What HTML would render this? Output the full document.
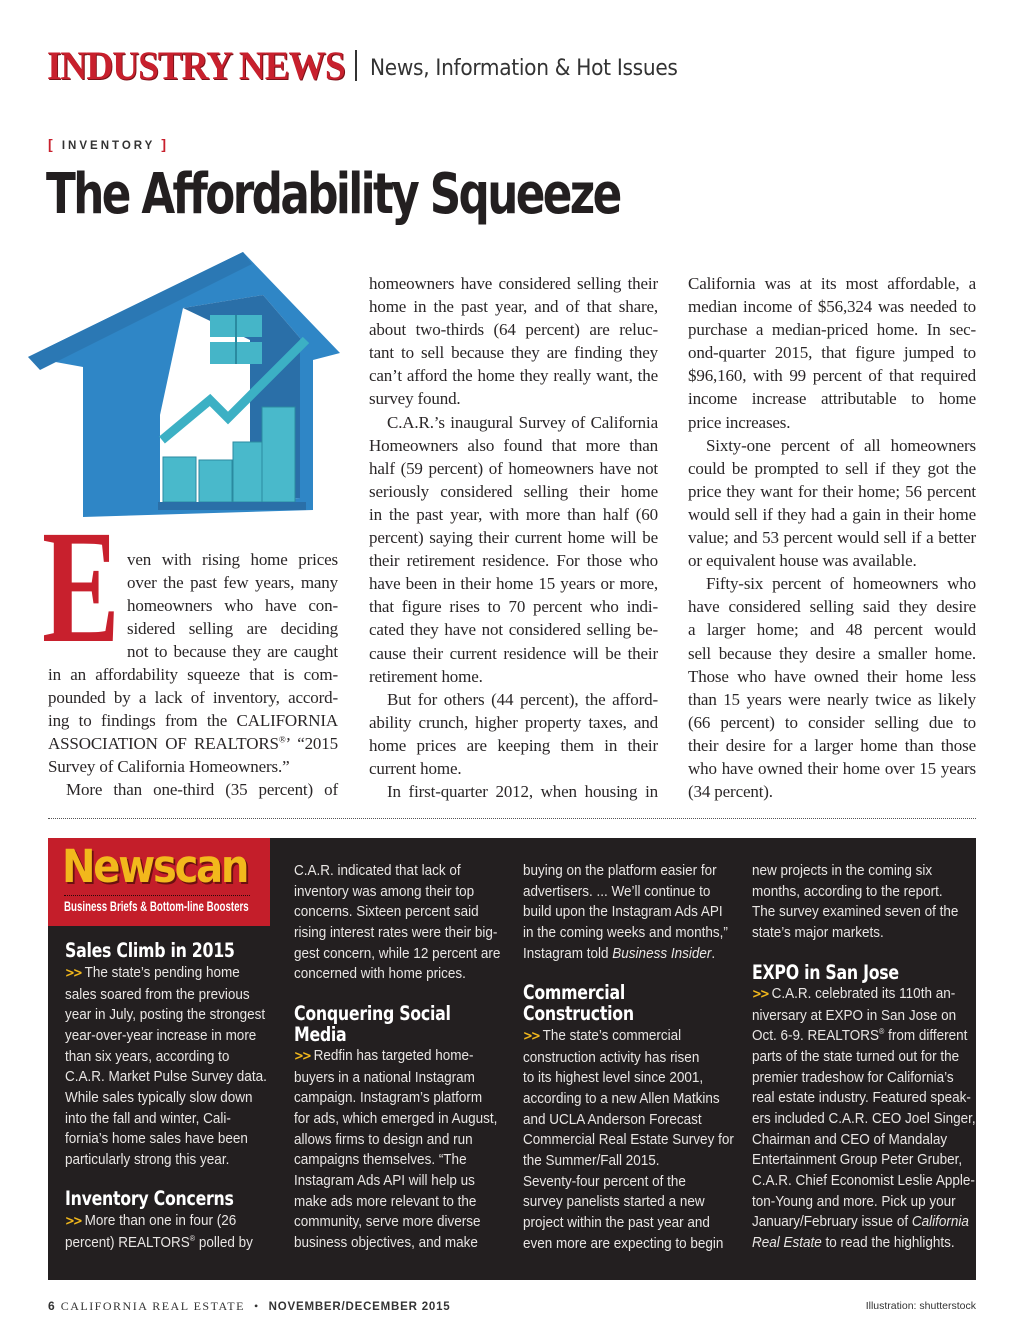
<!DOCTYPE html>
<html><head><meta charset="utf-8">
<style>
*{margin:0;padding:0;box-sizing:border-box}
body{width:1024px;height:1344px;background:#fff;position:relative;overflow:hidden;font-family:"Liberation Serif",serif;color:#231f20}
sup{line-height:0;vertical-align:super}
.abs{position:absolute}
.col{position:absolute;font-size:17px;line-height:23.1px;letter-spacing:-0.15px;color:#2a2627}
.col div{white-space:nowrap;text-align:justify;text-align-last:justify}
.col div.e{text-align-last:left}
.ns{position:absolute;font-family:"Liberation Sans",sans-serif;font-size:15px;line-height:20.65px;color:#e9e6e4;white-space:nowrap;transform:scaleX(0.9);transform-origin:left top}
.nh{position:absolute;font-family:"DejaVu Sans Condensed","DejaVu Sans",sans-serif;font-weight:bold;font-size:19.5px;line-height:21px;color:#fff;white-space:nowrap;letter-spacing:-0.3px;transform:scaleX(0.9);transform-origin:left top}
.ar{color:#f2b81c;font-weight:bold;font-family:"DejaVu Sans",sans-serif;font-size:13px;letter-spacing:-2px;margin-right:4px}
</style></head><body>

<div class="abs" style="left:47px;top:42px;font-family:'Liberation Serif',serif;font-weight:bold;font-size:40px;color:#c8202d;letter-spacing:-1.2px;transform:scaleX(0.935);transform-origin:left;text-shadow:1px 1px 0 #7a1218">INDUSTRY NEWS</div>
<div class="abs" style="left:355px;top:50px;width:2px;height:31px;background:#333"></div>
<div class="abs" style="left:370px;top:55px;font-family:'DejaVu Sans Condensed','DejaVu Sans',sans-serif;font-size:22.4px;color:#333;letter-spacing:-0.3px">News, Information &amp; Hot Issues</div>

<div class="abs" style="left:48px;top:136px;font-family:'Liberation Sans',sans-serif;font-size:11.5px;font-weight:bold;letter-spacing:3px;color:#333"><span style="color:#c8202d;font-size:14px">[</span> INVENTORY <span style="color:#c8202d;font-size:14px">]</span></div>
<div class="abs" style="left:46px;top:162px;font-family:'DejaVu Sans Condensed','DejaVu Sans',sans-serif;font-weight:bold;font-size:56px;letter-spacing:-3px;color:#231f20;transform:scaleX(0.867);transform-origin:left">The Affordability Squeeze</div>

<svg class="abs" style="left:0;top:240px" width="350" height="290" id="house"></svg>

<div class="abs" style="left:42px;top:507px;font-family:'Liberation Serif',serif;font-weight:bold;font-size:162px;line-height:162px;color:#c8202d;transform:scaleX(0.72);transform-origin:left">E</div>

<div class="col" style="left:48px;top:548px;width:290px;line-height:23px">
<div style="margin-left:79px">ven with rising home prices</div>
<div style="margin-left:79px">over the past few years, many</div>
<div style="margin-left:79px">homeowners who have con-</div>
<div style="margin-left:79px">sidered selling are deciding</div>
<div style="margin-left:79px">not to because they are caught</div>
<div>in an affordability squeeze that is com-</div>
<div>pounded by a lack of inventory, accord-</div>
<div>ing to findings from the CALIFORNIA</div>
<div>ASSOCIATION OF REALTORS<sup style="font-size:9px">®</sup>’ “2015</div>
<div class="e">Survey of California Homeowners.”</div>
<div style="margin-left:18px">More than one-third (35 percent) of</div>
</div>

<div class="col" style="left:369px;top:272px;width:289px">
<div>homeowners have considered selling their</div>
<div>home in the past year, and of that share,</div>
<div>about two-thirds (64 percent) are reluc-</div>
<div>tant to sell because they are finding they</div>
<div>can’t afford the home they really want, the</div>
<div class="e">survey found.</div>
<div style="margin-left:18px">C.A.R.’s inaugural Survey of California</div>
<div>Homeowners also found that more than</div>
<div>half (59 percent) of homeowners have not</div>
<div>seriously considered selling their home</div>
<div>in the past year, with more than half (60</div>
<div>percent) saying their current home will be</div>
<div>their retirement residence. For those who</div>
<div>have been in their home 15 years or more,</div>
<div>that figure rises to 70 percent who indi-</div>
<div>cated they have not considered selling be-</div>
<div>cause their current residence will be their</div>
<div class="e">retirement home.</div>
<div style="margin-left:18px">But for others (44 percent), the afford-</div>
<div>ability crunch, higher property taxes, and</div>
<div>home prices are keeping them in their</div>
<div class="e">current home.</div>
<div style="margin-left:18px">In first-quarter 2012, when housing in</div>
</div>

<div class="col" style="left:688px;top:272px;width:288px">
<div>California was at its most affordable, a</div>
<div>median income of $56,324 was needed to</div>
<div>purchase a median-priced home. In sec-</div>
<div>ond-quarter 2015, that figure jumped to</div>
<div>$96,160, with 99 percent of that required</div>
<div>income increase attributable to home</div>
<div class="e">price increases.</div>
<div style="margin-left:18px">Sixty-one percent of all homeowners</div>
<div>could be prompted to sell if they got the</div>
<div>price they want for their home; 56 percent</div>
<div>would sell if they had a gain in their home</div>
<div>value; and 53 percent would sell if a better</div>
<div class="e">or equivalent house was available.</div>
<div style="margin-left:18px">Fifty-six percent of homeowners who</div>
<div>have considered selling said they desire</div>
<div>a larger home; and 48 percent would</div>
<div>sell because they desire a smaller home.</div>
<div>Those who have owned their home less</div>
<div>than 15 years were nearly twice as likely</div>
<div>(66 percent) to consider selling due to</div>
<div>their desire for a larger home than those</div>
<div>who have owned their home over 15 years</div>
<div class="e">(34 percent).</div>
</div>

<div class="abs" style="left:48px;top:818px;width:928px;border-top:1.5px dotted #555"></div>

<div class="abs" style="left:48px;top:838px;width:928px;height:442px;background:#231f20"></div>
<div class="abs" style="left:48px;top:838px;width:222px;height:88px;background:#c41e2a"></div>
<div class="abs" style="left:62px;top:840px;font-family:'DejaVu Sans','Liberation Sans',sans-serif;font-weight:bold;font-size:45px;letter-spacing:-2.5px;color:#f2b81c;text-shadow:2px 2px 0 #6b1010;transform:scaleX(0.89);transform-origin:left">Newscan</div>
<div class="abs" style="left:64px;top:895px;width:186px;border-top:1px dotted #2a0a0a"></div>
<div class="abs" style="left:64px;top:899px;font-family:'Liberation Sans',sans-serif;font-weight:bold;font-size:13.5px;color:#fff;white-space:nowrap;transform:scaleX(0.72);transform-origin:left top">Business Briefs &amp; Bottom-line Boosters</div>

<div class="nh" style="left:65px;top:940px">Sales Climb in 2015</div>
<div class="ns" style="left:65px;top:963px">
<div><span class="ar">&gt;&gt;</span>The state’s pending home</div>
<div>sales soared from the previous</div>
<div>year in July, posting the strongest</div>
<div>year-over-year increase in more</div>
<div>than six years, according to</div>
<div>C.A.R. Market Pulse Survey data.</div>
<div>While sales typically slow down</div>
<div>into the fall and winter, Cali-</div>
<div>fornia’s home sales have been</div>
<div>particularly strong this year.</div>
</div>
<div class="nh" style="left:65px;top:1188px">Inventory Concerns</div>
<div class="ns" style="left:65px;top:1211px">
<div><span class="ar">&gt;&gt;</span>More than one in four (26</div>
<div>percent) REALTORS<sup style="font-size:8px">®</sup> polled by</div>
</div>

<div class="ns" style="left:294px;top:861px">
<div>C.A.R. indicated that lack of</div>
<div>inventory was among their top</div>
<div>concerns. Sixteen percent said</div>
<div>rising interest rates were their big-</div>
<div>gest concern, while 12 percent are</div>
<div>concerned with home prices.</div>
</div>
<div class="nh" style="left:294px;top:1003px">Conquering Social<br>Media</div>
<div class="ns" style="left:294px;top:1046px">
<div><span class="ar">&gt;&gt;</span>Redfin has targeted home-</div>
<div>buyers in a national Instagram</div>
<div>campaign. Instagram’s platform</div>
<div>for ads, which emerged in August,</div>
<div>allows firms to design and run</div>
<div>campaigns themselves. “The</div>
<div>Instagram Ads API will help us</div>
<div>make ads more relevant to the</div>
<div>community, serve more diverse</div>
<div>business objectives, and make</div>
</div>

<div class="ns" style="left:523px;top:861px">
<div>buying on the platform easier for</div>
<div>advertisers. ... We’ll continue to</div>
<div>build upon the Instagram Ads API</div>
<div>in the coming weeks and months,”</div>
<div>Instagram told <i>Business Insider</i>.</div>
</div>
<div class="nh" style="left:523px;top:982px">Commercial<br>Construction</div>
<div class="ns" style="left:523px;top:1026px">
<div><span class="ar">&gt;&gt;</span>The state’s commercial</div>
<div>construction activity has risen</div>
<div>to its highest level since 2001,</div>
<div>according to a new Allen Matkins</div>
<div>and UCLA Anderson Forecast</div>
<div>Commercial Real Estate Survey for</div>
<div>the Summer/Fall 2015.</div>
<div>Seventy-four percent of the</div>
<div>survey panelists started a new</div>
<div>project within the past year and</div>
<div>even more are expecting to begin</div>
</div>

<div class="ns" style="left:752px;top:861px">
<div>new projects in the coming six</div>
<div>months, according to the report.</div>
<div>The survey examined seven of the</div>
<div>state’s major markets.</div>
</div>
<div class="nh" style="left:752px;top:962px">EXPO in San Jose</div>
<div class="ns" style="left:752px;top:984px">
<div><span class="ar">&gt;&gt;</span>C.A.R. celebrated its 110th an-</div>
<div>niversary at EXPO in San Jose on</div>
<div>Oct. 6-9. REALTORS<sup style="font-size:8px">®</sup> from different</div>
<div>parts of the state turned out for the</div>
<div>premier tradeshow for California’s</div>
<div>real estate industry. Featured speak-</div>
<div>ers included C.A.R. CEO Joel Singer,</div>
<div>Chairman and CEO of Mandalay</div>
<div>Entertainment Group Peter Gruber,</div>
<div>C.A.R. Chief Economist Leslie Apple-</div>
<div>ton-Young and more. Pick up your</div>
<div>January/February issue of <i>California</i></div>
<div><i>Real Estate</i> to read the highlights.</div>
</div>

<div class="abs" style="left:48px;top:1299px;font-size:12px;letter-spacing:1.5px;color:#333;white-space:nowrap"><b style="font-family:'Liberation Sans',sans-serif">6</b> CALIFORNIA REAL ESTATE &nbsp;• &nbsp;<b style="font-family:'Liberation Sans',sans-serif;letter-spacing:0.8px;font-size:11.5px">NOVEMBER/DECEMBER 2015</b></div>
<div class="abs" style="right:48px;top:1300px;font-family:'Liberation Sans',sans-serif;font-size:10.5px;color:#333">Illustration: shutterstock</div>

<script>
const barHeights=[45,42,60,95];
const barLefts=[163,199,233,262];
const svg=document.getElementById('house');
const NS='http://www.w3.org/2000/svg';
function add(tag,attrs,name){const e=document.createElementNS(NS,tag);for(const k in attrs)e.setAttribute(k,attrs[k]);


svg.appendChild(e);return e;}
add('polygon',{points:'28,117 243,12 340,113 313,120 313,270 83,277 83,127',fill:'#2f86c6'},'house-body');
add('polygon',{points:'28,117 243,12 252,24 40,130',fill:'#2b78b4'},'roof-left');
add('polygon',{points:'160,175 183,68 263,55 300,98 300,258 160,265',fill:'#ffffff'},'house-opening');
add('polygon',{points:'183,68 263,55 300,98 300,258 250,260 250,100',fill:'#2a6fa8'},'inner-wall');
add('rect',{x:210,y:75,width:52,height:22,fill:'#45b5c8'},'window-top');
add('rect',{x:210,y:102,width:52,height:22,fill:'#45b5c8'},'window-bottom');
add('line',{x1:236,y1:75,x2:236,y2:124,stroke:'#2a8aa0','stroke-width':2},'window-divider');
add('polyline',{points:'162,200 210,160 228,178 306,100',fill:'none',stroke:'#3cb0c4','stroke-width':9},'trend-line');
const base=262;
barHeights.forEach((h,i)=>{add('rect',{x:barLefts[i],y:base-h,width:33,height:h,fill:'#49b9cb',stroke:'#2a8aa0','stroke-width':1},'bar-'+(i+1));});
add('rect',{x:158,y:262,width:148,height:8,fill:'#2a6fa8'},'house-floor');
</script>
</body></html>
